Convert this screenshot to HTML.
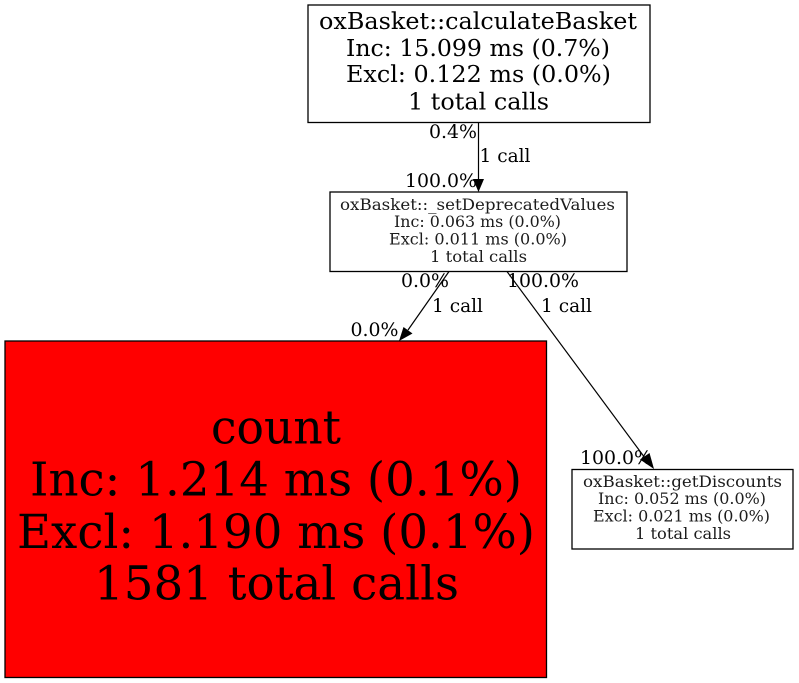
<!DOCTYPE html>
<html>
<head>
<meta charset="utf-8">
<style>
html,body{margin:0;padding:0;background:#fff;width:799px;height:683px;overflow:hidden}
svg{display:block}
text{font-family:"DejaVu Serif",serif;fill:#000;text-anchor:middle}
.e{font-size:18.6px}
.a{font-size:23.6px}
.b{font-size:15.8px;fill:#1c1c1c}
.c{font-size:46.8px}
</style>
</head>
<body>
<svg width="799" height="683" viewBox="0 0 799 683" xmlns="http://www.w3.org/2000/svg">
<rect x="308" y="5" width="342" height="117.500" fill="#fff" stroke="#000" stroke-width="1.300"/>
<text class="a" x="478" y="29" textLength="318" lengthAdjust="spacingAndGlyphs">oxBasket::calculateBasket</text>
<text class="a" x="478" y="56" textLength="264" lengthAdjust="spacingAndGlyphs">Inc: 15.099 ms (0.7%)</text>
<text class="a" x="478.500" y="82" textLength="265" lengthAdjust="spacingAndGlyphs">Excl: 0.122 ms (0.0%)</text>
<text class="a" x="478.500" y="109.500" textLength="141" lengthAdjust="spacingAndGlyphs">1 total calls</text>

<rect x="330" y="192" width="297" height="79.500" fill="#fff" stroke="#000" stroke-width="1.300"/>
<text class="b" x="477.500" y="210" textLength="275" lengthAdjust="spacingAndGlyphs">oxBasket::_setDeprecatedValues</text>
<text class="b" x="477.500" y="227" textLength="167" lengthAdjust="spacingAndGlyphs">Inc: 0.063 ms (0.0%)</text>
<text class="b" x="478" y="244.500" textLength="178" lengthAdjust="spacingAndGlyphs">Excl: 0.011 ms (0.0%)</text>
<text class="b" x="478.500" y="262" textLength="97" lengthAdjust="spacingAndGlyphs">1 total calls</text>

<rect x="5" y="341" width="541.500" height="336.500" fill="#ff0000" stroke="#000" stroke-width="1.300"/>
<text class="c" x="276" y="443.500" textLength="130" lengthAdjust="spacingAndGlyphs">count</text>
<text class="c" x="276" y="495.500" textLength="492" lengthAdjust="spacingAndGlyphs">Inc: 1.214 ms (0.1%)</text>
<text class="c" x="276" y="548" textLength="518" lengthAdjust="spacingAndGlyphs">Excl: 1.190 ms (0.1%)</text>
<text class="c" x="276.500" y="599.500" textLength="365" lengthAdjust="spacingAndGlyphs">1581 total calls</text>

<rect x="572" y="469.500" width="221" height="79.500" fill="#fff" stroke="#000" stroke-width="1.300"/>
<text class="b" x="682.500" y="487" textLength="199" lengthAdjust="spacingAndGlyphs">oxBasket::getDiscounts</text>
<text class="b" x="682" y="504" textLength="168" lengthAdjust="spacingAndGlyphs">Inc: 0.052 ms (0.0%)</text>
<text class="b" x="681.500" y="521.500" textLength="177" lengthAdjust="spacingAndGlyphs">Excl: 0.021 ms (0.0%)</text>
<text class="b" x="683" y="539" textLength="96" lengthAdjust="spacingAndGlyphs">1 total calls</text>

<line x1="478.500" y1="122.500" x2="478.500" y2="180" stroke="#000" stroke-width="1.200"/>
<polygon points="473,179 484,179 478.500,192" fill="#000"/>
<line x1="449" y1="271.500" x2="408" y2="330" stroke="#000" stroke-width="1.200"/>
<polygon points="403.500,327 412.500,333.500 399,341" fill="#000"/>
<line x1="507" y1="271.500" x2="645" y2="458" stroke="#000" stroke-width="1.200"/>
<polygon points="640,459.500 649.500,453 654,469" fill="#000"/>

<text class="e" x="453" y="138" textLength="48" lengthAdjust="spacingAndGlyphs">0.4%</text>
<text class="e" x="505" y="162" textLength="51" lengthAdjust="spacingAndGlyphs">1 call</text>
<text class="e" x="441" y="187" textLength="72" lengthAdjust="spacingAndGlyphs">100.0%</text>
<text class="e" x="425" y="287" textLength="48" lengthAdjust="spacingAndGlyphs">0.0%</text>
<text class="e" x="457.500" y="312" textLength="51" lengthAdjust="spacingAndGlyphs">1 call</text>
<text class="e" x="374.500" y="336" textLength="48" lengthAdjust="spacingAndGlyphs">0.0%</text>
<text class="e" x="543" y="287" textLength="72" lengthAdjust="spacingAndGlyphs">100.0%</text>
<text class="e" x="566.500" y="312" textLength="51" lengthAdjust="spacingAndGlyphs">1 call</text>
<text class="e" x="616" y="464" textLength="72" lengthAdjust="spacingAndGlyphs">100.0%</text>
</svg>
</body>
</html>
